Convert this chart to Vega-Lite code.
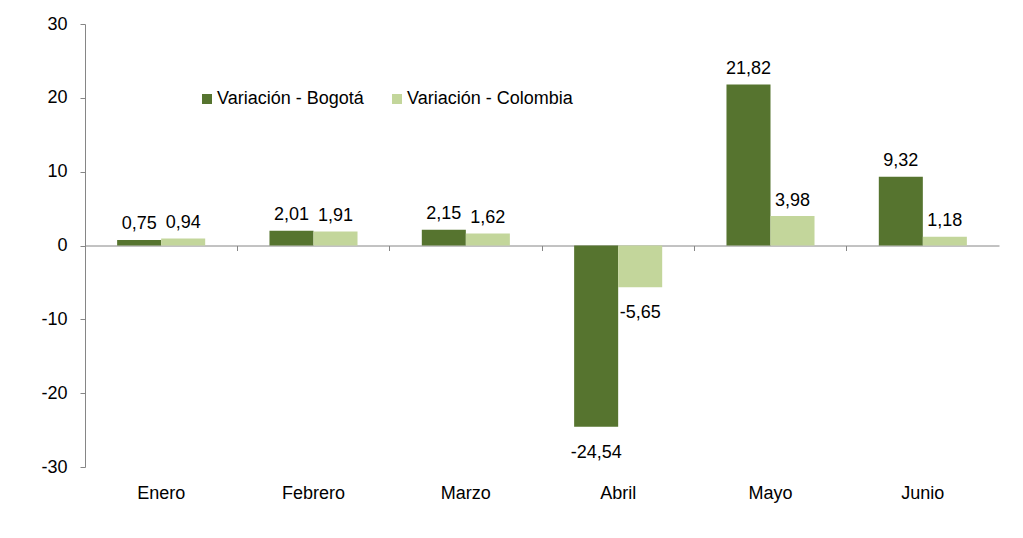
{
  "$schema": "https://vega.github.io/schema/vega-lite/v6.json",
  "autosize": "none",
  "width": 914,
  "height": 443,
  "padding": {"left": 85, "top": 24, "right": 24, "bottom": 71},
  "background": "white",
  "config": {
    "locale": {"number": {"decimal": ",", "thousands": ".", "grouping": [3], "currency": ["$", ""], "minus": "-"}},
    "view": {"stroke": null},
    "font": "Liberation Sans",
    "axis": {"grid": false, "labelFont": "Liberation Sans", "labelFontSize": 18, "labelColor": "#000000", "domainColor": "#868686", "tickColor": "#868686"}
  },
  "data": {
    "values": [
      {"mes": "Enero", "serie": "Variación - Bogotá", "valor": 0.75},
      {"mes": "Enero", "serie": "Variación - Colombia", "valor": 0.94},
      {"mes": "Febrero", "serie": "Variación - Bogotá", "valor": 2.01},
      {"mes": "Febrero", "serie": "Variación - Colombia", "valor": 1.91},
      {"mes": "Marzo", "serie": "Variación - Bogotá", "valor": 2.15},
      {"mes": "Marzo", "serie": "Variación - Colombia", "valor": 1.62},
      {"mes": "Abril", "serie": "Variación - Bogotá", "valor": -24.54},
      {"mes": "Abril", "serie": "Variación - Colombia", "valor": -5.65},
      {"mes": "Mayo", "serie": "Variación - Bogotá", "valor": 21.82},
      {"mes": "Mayo", "serie": "Variación - Colombia", "valor": 3.98},
      {"mes": "Junio", "serie": "Variación - Bogotá", "valor": 9.32},
      {"mes": "Junio", "serie": "Variación - Colombia", "valor": 1.18}
    ]
  },
  "encoding": {
    "x": {
      "field": "mes", "type": "nominal", "sort": null, "title": null,
      "scale": {"paddingInner": 0, "paddingOuter": 0},
      "axis": {"orient": "bottom", "offset": -221.5, "bandPosition": 0, "tickSize": 5, "labelPadding": 234, "labelAngle": 0, "domainWidth": 1}
    },
    "xOffset": {"field": "serie", "type": "nominal", "scale": {"paddingOuter": 0.73, "paddingInner": 0}},
    "y": {
      "field": "valor", "type": "quantitative", "title": null,
      "scale": {"domain": [-30, 30], "nice": false, "zero": false},
      "axis": {"values": [-30, -20, -10, 0, 10, 20, 30], "format": "d", "tickSize": 5, "labelPadding": 13}
    }
  },
  "layer": [
    {
      "mark": {"type": "bar"},
      "encoding": {
        "color": {
          "field": "serie", "type": "nominal", "title": null,
          "scale": {"domain": ["Variación - Bogotá", "Variación - Colombia"], "range": ["#56742f", "#c3d69b"]},
          "legend": {
            "orient": "none", "legendX": 113, "legendY": 66, "direction": "horizontal",
            "symbolType": "square", "symbolSize": 100, "symbolStrokeWidth": 0, "symbolOpacity": 1,
            "labelFontSize": 18, "labelFont": "Liberation Sans", "labelColor": "#000000",
            "labelOffset": 1, "labelLimit": 400, "columnPadding": 24
          }
        }
      }
    },
    {
      "transform": [{"filter": "datum.valor >= 0"}],
      "mark": {"type": "text", "baseline": "bottom", "dy": -6.5, "fontSize": 18, "color": "#000000"},
      "encoding": {"text": {"field": "valor", "type": "quantitative", "format": ".2f"}}
    },
    {
      "transform": [{"filter": "datum.valor < 0"}],
      "mark": {"type": "text", "baseline": "top", "dy": 17, "fontSize": 18, "color": "#000000"},
      "encoding": {"text": {"field": "valor", "type": "quantitative", "format": ".2f"}}
    }
  ]
}
